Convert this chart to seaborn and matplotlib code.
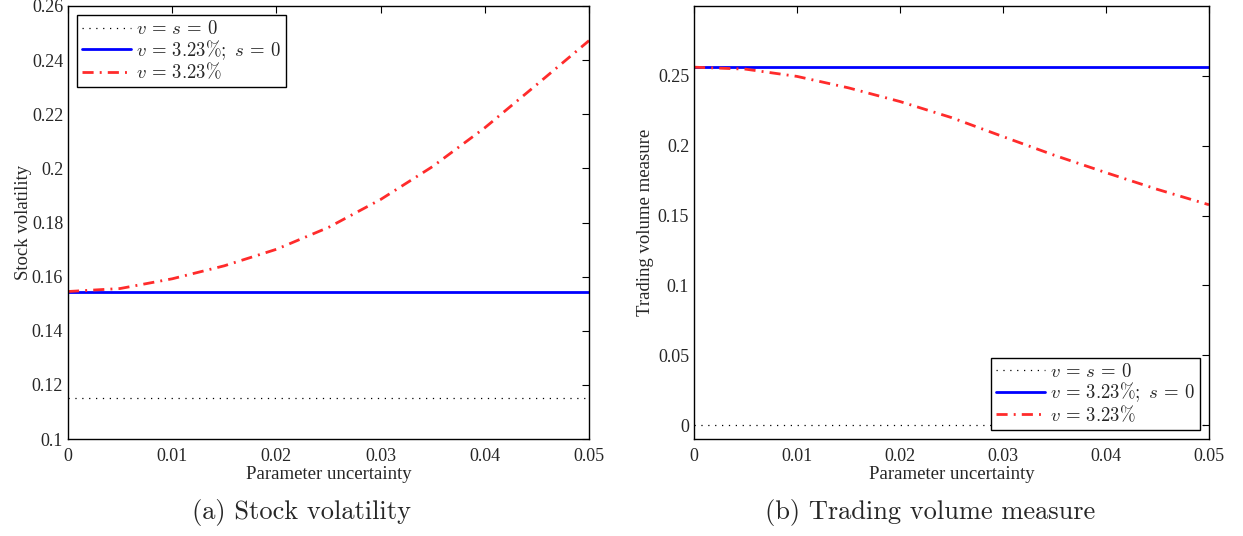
import numpy as np
import pandas as pd
import matplotlib
matplotlib.use("Agg")
import matplotlib.pyplot as plt
import seaborn as sns
from matplotlib.ticker import FuncFormatter

# ---- data ----
x_curve = [0.0, 0.005, 0.01, 0.015, 0.02, 0.025, 0.03, 0.035, 0.04, 0.045, 0.05]
vol_red = [0.1545, 0.1556, 0.1592, 0.1640, 0.1701, 0.1782, 0.1885, 0.2007, 0.2150, 0.2310, 0.2472]
vol_blue = [0.1545, 0.1545]
vol_dot = [0.115, 0.115]
tv_red = [0.2562, 0.2548, 0.2496, 0.2414, 0.2316, 0.2201, 0.2065, 0.1931, 0.1807, 0.1687, 0.1577]
tv_blue = [0.2562, 0.2562]
tv_dot = [0.0, 0.0]
x_flat = [0.0, 0.05]

labels = [r"$v\,=\,s\,=\,0$", r"$v\,=\,3.23\%;\ s\,=\,0$", r"$v\,=\,3.23\%$"]
x_ticks = [0, 0.01, 0.02, 0.03, 0.04, 0.05]
vol_ticks = [0.1, 0.12, 0.14, 0.16, 0.18, 0.2, 0.22, 0.24, 0.26]
tv_ticks = [0, 0.05, 0.1, 0.15, 0.2, 0.25]

sns.set_style("white")
plt.rcParams["font.family"] = ["Liberation Serif", "DejaVu Serif"]
plt.rcParams["mathtext.fontset"] = "cm"
plt.rcParams["xtick.direction"] = "in"
plt.rcParams["ytick.direction"] = "in"

fig = plt.figure(figsize=(12.43, 5.36), dpi=100)
axL = fig.add_axes([68 / 1243, 97 / 536, 521 / 1243, 433 / 536])
axR = fig.add_axes([694 / 1243, 97 / 536, 515 / 1243, 433 / 536])

red = "#ff2b2b"
dashdot = (0, (4, 2.2, 0.7, 2.2))
dotted = (0, (1.0, 4.5))

def draw(ax, yd, yb, yr):
    sns.lineplot(x=x_flat, y=yd, ax=ax, color="black", lw=0.9, linestyle=dotted, label=labels[0])
    sns.lineplot(x=x_flat, y=yb, ax=ax, color="#0000ff", lw=2.0, label=labels[1])
    sns.lineplot(x=x_curve, y=yr, ax=ax, color=red, lw=2.0, linestyle=dashdot, label=labels[2])

draw(axL, vol_dot, vol_blue, vol_red)
draw(axR, tv_dot, tv_blue, tv_red)

fmt = FuncFormatter(lambda v, p: "%g" % round(v, 4))
for ax in (axL, axR):
    ax.set_xlim(0, 0.05)
    ax.set_xticks(x_ticks)
    ax.xaxis.set_major_formatter(fmt)
    ax.yaxis.set_major_formatter(fmt)
    ax.tick_params(axis="both", which="both", top=True, right=True, length=5, width=0.8,
                   labelsize=13, color="black")
    ax.tick_params(axis="x", pad=6.5)
    ax.tick_params(axis="y", pad=3.5)
    for s in ax.spines.values():
        s.set_color("black")
        s.set_linewidth(1.0)
    ax.set_xlabel("Parameter uncertainty", fontsize=13.5, labelpad=0.5)

axL.set_ylim(0.1, 0.26)
axL.set_yticks(vol_ticks)
axL.set_ylabel("Stock volatility", fontsize=13.5, labelpad=0)
axR.set_ylim(-0.01, 0.3)
axR.set_yticks(tv_ticks)
axR.set_ylabel("Trading volume measure", fontsize=13.5, labelpad=3)

legkw = dict(fontsize=13.5, frameon=True, fancybox=False, edgecolor="black", framealpha=1,
             handlelength=2.6, handletextpad=0.3, borderpad=0.25, labelspacing=0.0,
             borderaxespad=0.5)
lgL = axL.legend(loc="upper left", **legkw)
lgR = axR.legend(loc="lower right", **legkw)
for lg in (lgL, lgR):
    lg.get_frame().set_linewidth(1.0)

fig.text(301.5 / 1243, 1 - 513 / 536, "(a) Stock volatility", family="cmr10", fontsize=19,
         ha="center", va="center")
fig.text(930 / 1243, 1 - 513 / 536, "(b) Trading volume measure", family="cmr10", fontsize=19,
         ha="center", va="center")

fig.savefig("out.png", dpi=100)
